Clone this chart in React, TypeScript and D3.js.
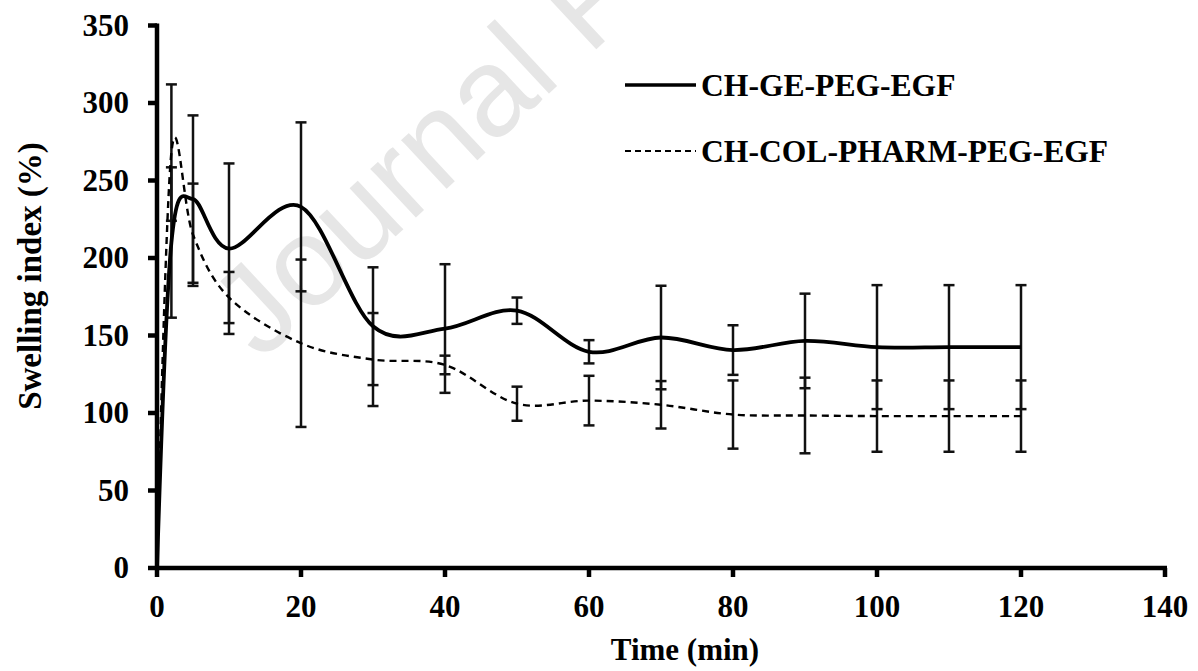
import React from 'react';
import * as d3 from 'd3';

// Sampling times (min)
const times = [0, 2, 5, 10, 20, 30, 40, 50, 60, 70, 80, 90, 100, 110, 120];

// CH-GE-PEG-EGF: mean swelling index (%) and standard deviation
const geValues = [0, 210, 238, 206, 233, 156, 154.5, 166, 139.5, 148.7, 140.6, 146.5, 142.5, 142.5, 142.5];
const geErrors = [0, 48.5, 54, 55, 54.5, 38, 41.5, 8.5, 7.5, 33.4, 16, 30.5, 40, 40, 40];

// CH-COL-PHARM-PEG-EGF: mean swelling index (%) and standard deviation
const colValues = [0, 268, 215, 174.5, 145, 134.5, 131, 106, 108, 105.3, 99, 98.4, 98, 98, 98];
const colErrors = [0, 44, 33, 16.5, 54, 30, 6, 11, 16, 15.3, 22, 24.4, 23, 23, 23];

const seriesNames = ['CH-GE-PEG-EGF', 'CH-COL-PHARM-PEG-EGF'];
const xTicks = [0, 20, 40, 60, 80, 100, 120, 140];
const yTicks = [0, 50, 100, 150, 200, 250, 300, 350];
const xTitle = 'Time (min)';
const yTitle = 'Swelling index (%)';
const watermark = 'Journal Pre-proof';

const W = 1198;
const H = 671;
const FONT = '"Liberation Serif", "Times New Roman", serif';

export default function App() {
  const x = d3.scaleLinear().domain([0, 140]).range([157, 1165]);
  const y = d3.scaleLinear().domain([0, 350]).range([568, 25.5]);

  const line = d3
    .line<number>()
    .x((_, i) => x(times[i]))
    .y((v) => y(v))
    .curve(d3.curveCardinal.tension(0));

  const series = [
    { name: seriesNames[0], values: geValues, errors: geErrors, width: 3.8, dash: undefined as string | undefined },
    { name: seriesNames[1], values: colValues, errors: colErrors, width: 2.4, dash: '7,5' },
  ];

  const capHalf = 5.5;

  return (
    <svg
      width={W}
      height={H}
      viewBox={`0 0 ${W} ${H}`}
      style={{ position: 'absolute', left: 0, top: 0, background: '#fff' }}
    >
      <rect x={0} y={0} width={W} height={H} fill="#fff" />

      {/* faint diagonal watermark */}
      <text
        x={261}
        y={362}
        transform="rotate(-43 261 362)"
        fontFamily='"Liberation Sans", Arial, sans-serif'
        fontSize={126}
        fill="#e6e6e6"
      >
        {watermark}
      </text>

      {/* error bars */}
      {series.map((s, si) => (
        <g key={`err-${si}`} stroke="#111" strokeWidth={2.5}>
          {times.map((t, i) => {
            const e = s.errors[i];
            if (!e) return null;
            const cx = x(t);
            const top = y(s.values[i] + e);
            const bot = y(s.values[i] - e);
            return (
              <g key={i}>
                <line x1={cx} x2={cx} y1={top} y2={bot} />
                <line x1={cx - capHalf} x2={cx + capHalf} y1={top} y2={top} />
                <line x1={cx - capHalf} x2={cx + capHalf} y1={bot} y2={bot} />
              </g>
            );
          })}
        </g>
      ))}

      {/* smoothed series lines */}
      {series.map((s, si) => (
        <path
          key={`line-${si}`}
          d={line(s.values) || ''}
          fill="none"
          stroke="#000"
          strokeWidth={s.width}
          strokeDasharray={s.dash}
        />
      ))}

      {/* axes */}
      <g stroke="#000" strokeWidth={4.5}>
        <line x1={x(0)} x2={x(0)} y1={y(350) - 2} y2={y(0) + 2} />
        <line x1={x(0) - 2} x2={x(140) + 2} y1={y(0)} y2={y(0)} />
        {yTicks.map((v) => (
          <line key={`yt-${v}`} x1={x(0) - 9} x2={x(0)} y1={y(v)} y2={y(v)} />
        ))}
        {xTicks.map((v) => (
          <line key={`xt-${v}`} x1={x(v)} x2={x(v)} y1={y(0)} y2={y(0) + 9} />
        ))}
      </g>

      <g fontFamily={FONT} fontWeight="bold" fontSize={31} fill="#000">
        {yTicks.map((v) => (
          <text key={`yl-${v}`} x={129} y={y(v) + 10} textAnchor="end">
            {v}
          </text>
        ))}
        {xTicks.map((v) => (
          <text key={`xl-${v}`} x={x(v)} y={617} textAnchor="middle">
            {v}
          </text>
        ))}
        <text x={685} y={660} textAnchor="middle">
          {xTitle}
        </text>
        <text x={41} y={276} textAnchor="middle" fontSize={33} transform="rotate(-90 41 276)">
          {yTitle}
        </text>
      </g>

      {/* legend */}
      <g>
        <line x1={625} x2={696} y1={85} y2={85} stroke="#000" strokeWidth={3.5} />
        <line x1={625} x2={696} y1={151} y2={151} stroke="#000" strokeWidth={2.2} strokeDasharray="6,4" />
        <g fontFamily={FONT} fontWeight="bold" fontSize={31.6} fill="#000">
          <text x={701} y={96}>{seriesNames[0]}</text>
          <text x={701} y={162}>{seriesNames[1]}</text>
        </g>
      </g>
    </svg>
  );
}
